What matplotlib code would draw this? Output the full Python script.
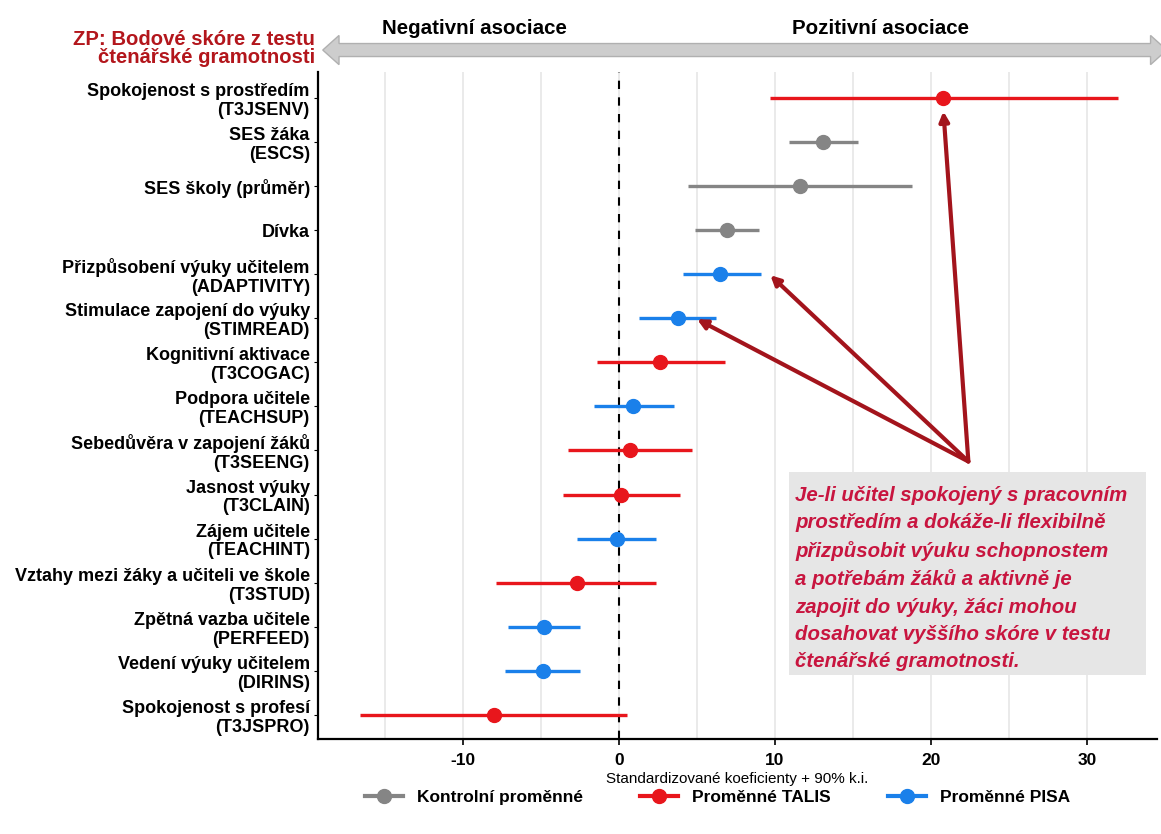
import numpy as np
import matplotlib.pyplot as plt
from matplotlib.lines import Line2D
from matplotlib.patches import Polygon, Rectangle

plt.rcParams['font.family'] = ['Liberation Sans', 'DejaVu Sans']
plt.rcParams['font.weight'] = 'bold'
plt.rcParams['axes.unicode_minus'] = False

# data (top to bottom)
labels = ["Spokojenost s prostředím\n(T3JSENV)", "SES žáka\n(ESCS)", "SES školy (průměr)",
          "Dívka", "Přizpůsobení výuky učitelem\n(ADAPTIVITY)",
          "Stimulace zapojení do výuky\n(STIMREAD)", "Kognitivní aktivace\n(T3COGAC)",
          "Podpora učitele\n(TEACHSUP)", "Sebedůvěra v zapojení žáků\n(T3SEENG)",
          "Jasnost výuky\n(T3CLAIN)", "Zájem učitele\n(TEACHINT)",
          "Vztahy mezi žáky a učiteli ve škole\n(T3STUD)", "Zpětná vazba učitele\n(PERFEED)",
          "Vedení výuky učitelem\n(DIRINS)", "Spokojenost s profesí\n(T3JSPRO)"]
group = ["TALIS", "Kontrolní", "Kontrolní", "Kontrolní", "PISA", "PISA", "TALIS", "PISA",
         "TALIS", "TALIS", "PISA", "TALIS", "PISA", "PISA", "TALIS"]
coef = [20.8, 13.1, 11.6, 6.9, 6.5, 3.75, 2.65, 0.9, 0.7, 0.1, -0.15, -2.7, -4.8, -4.9, -8.0]
low = [9.7, 10.9, 4.4, 4.9, 4.1, 1.25, -1.4, -1.6, -3.3, -3.6, -2.7, -7.9, -7.1, -7.3, -16.6]
high = [32.0, 15.3, 18.8, 9.0, 9.1, 6.2, 6.8, 3.5, 4.7, 3.9, 2.35, 2.4, -2.5, -2.5, 0.5]

colors = {"Kontrolní": "#858585", "TALIS": "#e8161c", "PISA": "#1a80ea"}
legend_names = {"Kontrolní": "Kontrolní proměnné", "TALIS": "Proměnné TALIS", "PISA": "Proměnné PISA"}

n = len(labels)
ypos = np.arange(n, 0, -1)

fig = plt.figure(figsize=(11.61, 8.34), dpi=100)
ax = fig.add_axes([0.274, 0.114, 0.7226, 0.8])

for y, c, lo, hi, g in zip(ypos, coef, low, high, group):
    col = colors[g]
    ax.plot([lo, hi], [y, y], color=col, lw=2.4, solid_capstyle='butt', zorder=3)
    ax.plot(c, y, 'o', color=col, ms=10, zorder=4)

ax.axvline(0, color='black', ls=(0, (4, 4)), lw=1.5, zorder=2)

ax.set_xlim(-19.3, 34.5)
ax.set_ylim(0.45, n + 0.6)
ax.set_xticks([-10, 0, 10, 20, 30])
ax.set_xticks([-15, -5, 5, 15, 25], minor=True)
ax.set_yticks(ypos)
ax.set_yticklabels(labels, fontsize=13, linespacing=1.15)
ax.tick_params(axis='x', which='major', labelsize=12.5, length=4, width=1.2, pad=6)
ax.tick_params(axis='x', which='minor', length=0)
ax.tick_params(axis='y', length=3, width=0.8, pad=3)
ax.grid(axis='x', which='both', color='#e6e6e6', lw=1.2, zorder=0)
for s in ['top', 'right']:
    ax.spines[s].set_visible(False)
ax.spines['left'].set_linewidth(1.6)
ax.spines['bottom'].set_linewidth(1.6)
ax.set_xlabel("Standardizované koeficienty + 90% k.i.", fontsize=11, labelpad=3)

# annotation box and arrows
ax.add_patch(Rectangle((10.9, 1.9), 22.9, 4.6, facecolor='#e6e6e6', edgecolor='none', zorder=1))
ax.text(11.3, 6.2, "Je-li učitel spokojený s pracovním\nprostředím a dokáže-li flexibilně\n"
        "přizpůsobit výuku schopnostem\na potřebám žáků a aktivně je\n"
        "zapojit do výuky, žáci mohou\ndosahovat vyššího skóre v testu\n"
        "čtenářské gramotnosti.",
        fontsize=14.7, style='italic', color='#c8153f', va='top', ha='left',
        linespacing=1.55, zorder=2)
tail = (22.4, 6.75)
for head in [(20.8, 14.7), (9.7, 10.98), (5.0, 9.98)]:
    ax.annotate("", xy=head, xytext=tail,
                arrowprops=dict(arrowstyle='-|>', color='#a3141c', lw=3, mutation_scale=14,
                                shrinkA=0, shrinkB=0), zorder=5)

# top banner arrow
yc, sh, hh = 0.940, 0.0078, 0.0175
xl, xr, hl = 0.278, 1.005, 0.014
pts = [(xl, yc), (xl + hl, yc + hh), (xl + hl, yc + sh), (xr - hl, yc + sh), (xr - hl, yc + hh),
       (xr, yc), (xr - hl, yc - hh), (xr - hl, yc - sh), (xl + hl, yc - sh), (xl + hl, yc - hh)]
fig.patches.append(Polygon(pts, closed=True, transform=fig.transFigure, facecolor='#cdcdcd',
                           edgecolor='#b0b0b0', lw=1))
fig.text(0.409, 0.966, "Negativní asociace", fontsize=14.8, ha='center', va='center')
fig.text(0.758, 0.966, "Pozitivní asociace", fontsize=14.8, ha='center', va='center')
fig.text(0.271, 0.942, "ZP: Bodové skóre z testu\nčtenářské gramotnosti", fontsize=14.6,
         ha='right', va='center', color='#b3161c', linespacing=0.9)

handles = [Line2D([0], [0], color=colors[g], lw=3, marker='o', ms=10) for g in colors]
fig.legend(handles, [legend_names[g] for g in colors], loc='center', ncol=3,
           bbox_to_anchor=(0.618, 0.044), frameon=False, fontsize=12.5, handlelength=2.2,
           columnspacing=3.3)

fig.savefig("out.png", dpi=100)
